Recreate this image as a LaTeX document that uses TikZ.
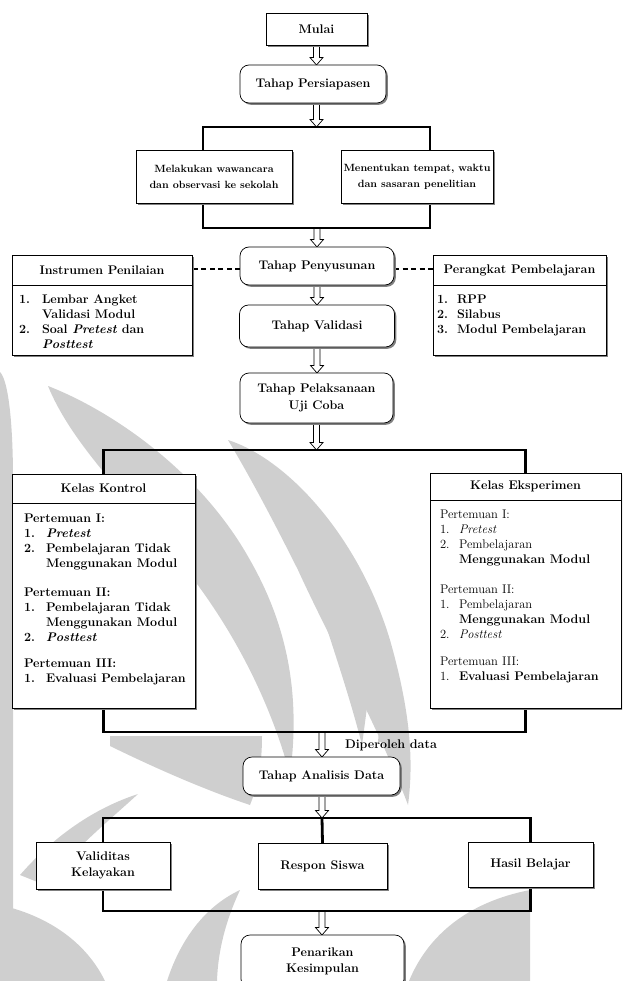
\documentclass[tikz,border=0pt]{standalone}
\usetikzlibrary{calc,shadows,backgrounds}
\pgfdeclarelayer{wmark}
\pgfsetlayers{wmark,background,main}
\newcommand{\hollowarrow}[2]{%
  \draw[harrow] let \p1=(#1), \p2=(#2) in
    (\x1-3pt,\y1) -- (\x1-3pt,\y2+7.5pt) -- (\x1-6.5pt,\y2+7.5pt) -- (\x1,\y2)
    -- (\x1+6.5pt,\y2+7.5pt) -- (\x1+3pt,\y2+7.5pt) -- (\x1+3pt,\y1);}
\begin{document}
\begin{tikzpicture}[x=1pt,y=-1pt,
  every node/.style={inner sep=0pt, outer sep=0pt},
  txt/.style={font=\fontsize{12.5}{15}\selectfont\bfseries},
  ctxt/.style={font=\fontsize{12.5}{16.5}\selectfont\bfseries, align=center},
  stxt/.style={font=\fontsize{10.5}{16}\selectfont\bfseries, align=center},
  sq/.style={draw, fill=white, line width=0.7pt,
    drop shadow={shadow xshift=1.8pt, shadow yshift=-1.8pt, fill=black!50, opacity=1}},
  rnd/.style={sq, rounded corners=9pt},
  harrow/.style={draw, fill=white, line width=0.7pt, line join=miter},
  bar/.style={line width=2.8pt},
  dsh/.style={line width=1.4pt, dash pattern=on 5pt off 3.5pt},
  divline/.style={line width=0.7pt},
  wm/.style={fill=black!19, draw=none}]
\useasboundingbox (0,0) rectangle (622,981);
\clip (0,0) rectangle (622,981);

% ---- main boxes
\node[sq, ctxt, minimum width=101pt, minimum height=32pt] (mulai) at (316.5,29) {Mulai};
\node[rnd, ctxt, minimum width=146pt, minimum height=38pt] (pers) at (313,84) {Tahap Persiapasen};
\coordinate (r1a) at (203,127);
\coordinate (r1b) at (430,228);
\node[sq, stxt, minimum width=156pt, minimum height=53pt] (mel) at (214,176.5) {Melakukan wawancara\\dan observasi ke sekolah};
\node[sq, stxt, minimum width=152pt, minimum height=53pt] (men) at (417,176.5) {Menentukan tempat, waktu\\dan sasaran penelitian};
\node[rnd, ctxt, minimum width=154pt, minimum height=38pt] (pen) at (317,266) {Tahap Penyusunan};
\node[sq, minimum width=180pt, minimum height=100pt] (inst) at (102,305) {};
\node[sq, minimum width=173pt, minimum height=100pt] (per) at (519.5,305) {};
\node[rnd, ctxt, minimum width=155pt, minimum height=42pt] (val) at (317,326) {Tahap Validasi};
\node[rnd, ctxt, minimum width=153pt, minimum height=50pt] (pel) at (316.5,398) {Tahap Pelaksanaan\\Uji Coba};
\node[sq, minimum width=183pt, minimum height=234pt] (kon) at (103.5,591) {};
\node[sq, minimum width=191pt, minimum height=235pt] (eks) at (525.5,590.5) {};
\node[rnd, ctxt, minimum width=157pt, minimum height=38pt] (ana) at (321.5,776) {Tahap Analisis Data};
\node[sq, ctxt, minimum width=134pt, minimum height=47pt] (vk) at (103,865.5) {Validitas\\Kelayakan};
\node[sq, ctxt, minimum width=129pt, minimum height=46pt] (rs) at (322.5,866) {Respon Siswa};
\node[sq, ctxt, minimum width=125pt, minimum height=45pt] (hb) at (530.5,864.5) {Hasil Belajar};
\node[rnd, ctxt, minimum width=163pt, minimum height=53pt] (pk) at (322.5,961.5) {Penarikan\\Kesimpulan};

% ---- dividers and headers
\draw[divline] (inst.west |- 0,285) -- (inst.east |- 0,285);
\draw[divline] (per.west |- 0,285) -- (per.east |- 0,285);
\draw[divline] (kon.west |- 0,503) -- (kon.east |- 0,503);
\draw[divline] (eks.west |- 0,500) -- (eks.east |- 0,500);
\node[txt] (insth) at (102,270) {Instrumen Penilaian};
\node[txt] (perh) at (519.5,270) {Perangkat Pembelajaran};
\node[txt] (konh) at (103.5,488) {Kelas Kontrol};
\node[txt] (eksh) at (525.5,486) {Kelas Eksperimen};

% ---- lists
\foreach [count=\i] \xx/\yy/\t in {19/303/1., 42/303/Lembar Angket, 42/318/Validasi Modul,
  19/333/2., 42/333/{Soal \textit{Pretest} dan}, 42/348/\textit{Posttest}}
  \node[txt, anchor=base west] (il\i) at (\xx,\yy) {\t};
\foreach [count=\i] \xx/\yy/\t in {437/303/1., 457/303/RPP, 437/318/2., 457/318/Silabus,
  437/333/3., 457/333/Modul Pembelajaran}
  \node[txt, anchor=base west] (pl\i) at (\xx,\yy) {\t};
\foreach [count=\i] \xx/\yy/\t in {24/522/Pertemuan I:, 24/537/1., 46/537/\textit{Pretest},
  24/552/2., 46/552/Pembelajaran Tidak, 46/567/Menggunakan Modul,
  24/596/Pertemuan II:, 24/611/1., 46/611/Pembelajaran Tidak, 46/626/Menggunakan Modul,
  24/641/2., 46/641/\textit{Posttest},
  24/667/Pertemuan III:, 24/682/1., 46/682/Evaluasi Pembelajaran}
  \node[txt, anchor=base west] (kl\i) at (\xx,\yy) {\t};
\foreach [count=\i] \xx/\yy/\t in {440/518/\mdseries Pertemuan I:, 440/533/\mdseries 1., 459/533/\mdseries\textit{Pretest},
  440/548/\mdseries 2., 459/548/\mdseries Pembelajaran, 459/563/Menggunakan Modul,
  440/593/\mdseries Pertemuan II:, 440/608/\mdseries 1., 459/608/\mdseries Pembelajaran, 459/623/Menggunakan Modul,
  440/638/\mdseries 2., 459/638/\mdseries\textit{Posttest},
  440/665/\mdseries Pertemuan III:, 440/680/\mdseries 1., 459/680/Evaluasi Pembelajaran}
  \node[txt, anchor=base west] (el\i) at (\xx,\yy) {\t};
\node[txt, anchor=base west] (dat) at (345,748) {Diperoleh data};

% ---- connectors (behind boxes)
\coordinate (b1) at (317,450);
\coordinate (b2) at (322,732);
\coordinate (b3) at (322,818);
\coordinate (b4) at (322,911);
\begin{scope}[on background layer]
  \hollowarrow{mulai.south}{pers.north}
  \hollowarrow{pers.south -| mulai.south}{r1a -| mulai.south}
  \hollowarrow{r1b -| pen.north}{pen.north}
  \hollowarrow{pen.south}{val.north}
  \hollowarrow{val.south}{pel.north}
  \hollowarrow{pel.south}{b1}
  \hollowarrow{b2}{ana.north}
  \hollowarrow{ana.south -| b3}{b3}
  \hollowarrow{b4}{pk.north}
  \draw[bar] (r1a) rectangle (r1b);
  \draw[bar] (kon.north) |- (b1) -| (eks.north);
  \draw[bar] (kon.south) |- (b2) -| (eks.south);
  \draw[bar] (vk.north) |- (b3) -| (hb.north);
  \draw[bar] (b3) -- (rs.north);
  \draw[bar] (vk.south) |- (b4) -| (hb.south);
  \draw[dsh] ([yshift=-3pt]pen.west) -- ([yshift=-3pt]pen.west -| inst.east);
  \draw[dsh] ([yshift=-3pt]pen.east) -- ([yshift=-3pt]pen.east -| per.west);
\end{scope}

% ---- faint watermark (flame tongues)
\begin{pgfonlayer}{wmark}
  \fill[wm] (0,372) .. controls (8,380) and (13,420) .. (13,480) -- (13,981) -- (0,981) -- cycle;
  \fill[wm] (48,386) .. controls (110,410) and (200,470) .. (250,560)
     .. controls (290,630) and (300,700) .. (290,775)
     .. controls (270,700) and (230,620) .. (170,550)
     .. controls (120,490) and (70,440) .. (48,386) -- cycle;
  \fill[wm] (228,440) .. controls (290,460) and (360,540) .. (390,640)
     .. controls (410,710) and (414,760) .. (408,805)
     .. controls (380,730) and (330,640) .. (298,570)
     .. controls (268,510) and (246,470) .. (228,440) -- cycle;
  \fill[wm] (333,550) .. controls (360,580) and (374,640) .. (368,700)
     -- (362,745) .. controls (348,690) and (330,640) .. (318,600)
     .. controls (322,580) and (328,565) .. (333,550) -- cycle;
  \fill[wm] (390,672) .. controls (402,690) and (406,715) .. (403,742)
     -- (378,742) .. controls (380,715) and (385,690) .. (390,672) -- cycle;
  \fill[wm] (110,736) -- (262,736) .. controls (262,765) and (258,785) .. (250,805)
     .. controls (205,790) and (155,768) .. (110,746) -- cycle;
  \fill[wm] (20,875) .. controls (55,835) and (95,808) .. (138,794)
     .. controls (112,818) and (75,848) .. (45,885) -- cycle;
  \fill[wm] (0,905) .. controls (45,915) and (85,940) .. (105,981) -- (0,981) -- cycle;
  \fill[wm] (167,981) .. controls (182,935) and (208,905) .. (240,890)
     .. controls (226,920) and (218,950) .. (217,981) -- cycle;
  \fill[wm] (409,981) .. controls (428,935) and (468,902) .. (530,890)
     -- (530,981) -- cycle;
\end{pgfonlayer}
\end{tikzpicture}
\end{document}
